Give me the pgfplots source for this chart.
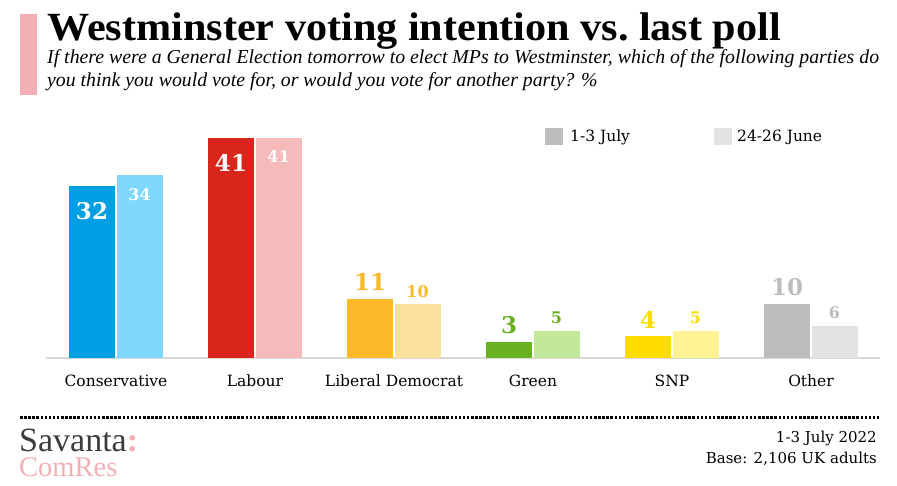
\documentclass[border=0pt]{standalone}
\usepackage{pgfplots}
\pgfplotsset{compat=1.18}
\usepackage{fontspec}
\setmainfont{DejaVu Serif}
\newfontfamily\condfont{Liberation Serif}
\definecolor{conA}{HTML}{009FE3}
\definecolor{conB}{HTML}{80D8FF}
\definecolor{labA}{HTML}{DA251D}
\definecolor{labB}{HTML}{F5BABA}
\definecolor{ldA}{HTML}{FBB829}
\definecolor{ldB}{HTML}{FCE0A0}
\definecolor{grA}{HTML}{6AB023}
\definecolor{grB}{HTML}{C2E89A}
\definecolor{snA}{HTML}{FFDC00}
\definecolor{snB}{HTML}{FFF295}
\definecolor{otA}{HTML}{BDBDBD}
\definecolor{otB}{HTML}{E3E3E3}
\definecolor{brandpink}{HTML}{F4AFB5}
\definecolor{logogray}{HTML}{3C3C3C}
\pgfplotsset{
  julyin/.style={nodes near coords, every node near coord/.append style={anchor=center, xshift=-24pt, yshift=-25pt, text=white, font=\bfseries\fontsize{23}{23}\selectfont}},
  junein/.style={nodes near coords, every node near coord/.append style={anchor=center, xshift=23.5pt, yshift=-19pt, text=white, font=\bfseries\fontsize{16}{16}\selectfont}},
  julyout/.style={nodes near coords, every node near coord/.append style={anchor=center, xshift=-24pt, yshift=17pt, text=#1, font=\bfseries\fontsize{23}{23}\selectfont}},
  juneout/.style={nodes near coords, every node near coord/.append style={anchor=center, xshift=23.5pt, yshift=13pt, text=#1, font=\bfseries\fontsize{16}{16}\selectfont}},
  jul/.style={ybar, bar width=46pt, bar shift=-24pt, draw=none, fill=#1},
  jun/.style={ybar, bar width=46pt, bar shift=23.5pt, draw=none, fill=#1},
}
\begin{document}
\begin{tikzpicture}
\path[use as bounding box] (0pt,0pt) rectangle (897pt,485pt);
% header
\fill[brandpink] (20pt,390pt) rectangle (37pt,471pt);
\node[anchor=base west, inner sep=0, font=\condfont\bfseries\fontsize{40}{42}\selectfont] at (47pt,444pt) {\scalebox{1.055}[1]{Westminster voting intention vs.\ last poll}};
\node[anchor=base west, inner sep=0, font=\condfont\itshape\fontsize{19.8}{22}\selectfont] at (47pt,421pt) {If there were a General Election tomorrow to elect MPs to Westminster, which of the following parties do};
\node[anchor=base west, inner sep=0, font=\condfont\itshape\fontsize{19.8}{22}\selectfont] at (47pt,398pt) {you think you would vote for, or would you vote for another party? \%};
% legend
\fill[otA] (545pt,340pt) rectangle (563pt,357pt);
\node[anchor=base west, inner sep=0, font=\fontsize{15.5}{18}\selectfont] at (570pt,343pt) {1-3 July};
\fill[otB] (714pt,340pt) rectangle (732pt,357pt);
\node[anchor=base west, inner sep=0, font=\fontsize{15.5}{18}\selectfont] at (737pt,343pt) {24-26 June};
\begin{axis}[
  at={(46pt,127pt)}, anchor=south west,
  scale only axis, width=834pt, height=220.4pt,
  xmin=-0.5036, xmax=5.4964, ymin=0, ymax=41,
  clip=false,
  axis x line=bottom, hide y axis,
  x axis line style={-, draw=black!15, line width=1.2pt},
  xtick={0,1,2,3,4,5},
  xticklabels={Conservative,Labour,Liberal Democrat,Green,SNP,Other},
  major tick length=0pt,
  xticklabel style={anchor=base, yshift=-28pt, font=\fontsize{15.5}{18}\selectfont},
  /pgf/number format/assume math mode=true,
]
\addplot[jul=conA, julyin] coordinates {(0,32)};
\addplot[jun=conB, junein] coordinates {(0,34)};
\addplot[jul=labA, julyin] coordinates {(1,41)};
\addplot[jun=labB, junein] coordinates {(1,41)};
\addplot[jul=ldA, julyout=ldA] coordinates {(2,11)};
\addplot[jun=ldB, juneout=ldA] coordinates {(2,10)};
\addplot[jul=grA, julyout=grA] coordinates {(3,3)};
\addplot[jun=grB, juneout=grA] coordinates {(3,5)};
\addplot[jul=snA, julyout=snA] coordinates {(4,4)};
\addplot[jun=snB, juneout=snA] coordinates {(4,5)};
\addplot[jul=otA, julyout=otA] coordinates {(5,10)};
\addplot[jun=otB, juneout=otA] coordinates {(5,6)};
\end{axis}
% footer
\draw[line width=3pt, dash pattern=on 2.5pt off 1.6pt] (20pt,68pt) -- (880pt,68pt);
\node[anchor=base west, inner sep=0, font=\condfont\fontsize{34}{36}\selectfont] at (19pt,34pt) {\textcolor{logogray}{Savanta}\textcolor{brandpink}{\bfseries:}};
\node[anchor=base west, inner sep=0, font=\condfont\fontsize{28.5}{30}\selectfont, text=brandpink] at (19pt,9pt) {ComRes};
\node[anchor=base east, inner sep=0, font=\fontsize{15}{18}\selectfont] at (877pt,43pt) {1-3 July 2022};
\node[anchor=base east, inner sep=0, font=\fontsize{15}{18}\selectfont] at (877pt,22pt) {Base: 2,106 UK adults};
\end{tikzpicture}
\end{document}
